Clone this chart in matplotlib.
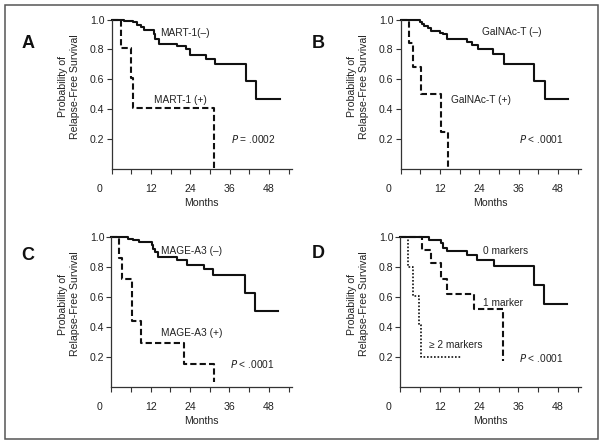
import matplotlib
matplotlib.use("Agg")
import matplotlib.pyplot as plt
import matplotlib.transforms as mtransforms
from matplotlib.patches import Rectangle

plt.rcParams['font.family'] = ['Liberation Sans', 'DejaVu Sans']

# Panel A: MART-1
a_neg_t = [0, 3.7, 6.7, 7.9, 9.0, 9.8, 12.8, 13.3, 14.6, 20.1, 22.8, 23.8, 28.9, 31.6, 41.0, 44.0, 51.3]
a_neg_s = [1.0, 0.99, 0.98, 0.965, 0.95, 0.93, 0.90, 0.87, 0.835, 0.82, 0.80, 0.765, 0.735, 0.70, 0.59, 0.47, 0.47]
a_pos_t = [0, 2.85, 5.9, 6.4, 31.3]
a_pos_s = [1.0, 0.81, 0.61, 0.41, 0.0]

# Panel B: GalNAc-T
b_neg_t = [0, 6.0, 6.7, 7.3, 8.3, 9.4, 12.1, 12.9, 14.3, 20.2, 21.7, 23.5, 28.3, 31.4, 40.8, 43.9, 51.0]
b_neg_s = [1.0, 0.98, 0.97, 0.955, 0.94, 0.925, 0.91, 0.90, 0.87, 0.85, 0.83, 0.80, 0.77, 0.70, 0.59, 0.47, 0.47]
b_pos_t = [0, 2.6, 3.7, 6.3, 12.3, 14.4]
b_pos_s = [1.0, 0.84, 0.68, 0.50, 0.25, 0.0]

# Panel C: MAGE-A3
c_neg_t = [0, 5.2, 6.7, 8.4, 12.3, 12.8, 13.3, 14.3, 19.9, 23.1, 28.2, 31.1, 40.7, 43.8, 50.9]
c_neg_s = [1.0, 0.99, 0.98, 0.965, 0.945, 0.92, 0.90, 0.87, 0.847, 0.813, 0.786, 0.746, 0.625, 0.506, 0.506]
c_pos_t = [0, 2.3, 3.4, 6.2, 9.2, 22.2, 31.3]
c_pos_s = [1.0, 0.86, 0.72, 0.44, 0.29, 0.15, 0.03]

# Panel D: number of markers
d_0_t = [0, 8.7, 12.4, 13.1, 14.3, 20.2, 23.5, 28.5, 40.8, 43.9, 50.9]
d_0_s = [1.0, 0.98, 0.96, 0.93, 0.91, 0.88, 0.845, 0.81, 0.68, 0.55, 0.55]
d_1_t = [0, 6.7, 9.5, 12.3, 14.3, 22.5, 31.4]
d_1_s = [1.0, 0.913, 0.83, 0.718, 0.617, 0.517, 0.175]
d_2_t = [0, 2.4, 3.8, 5.8, 6.3, 18.4]
d_2_s = [1.0, 0.80, 0.61, 0.41, 0.20, 0.20]

panels = [
    ('A', [(a_neg_t, a_neg_s, '-'), (a_pos_t, a_pos_s, '--')],
     [('MART-1(–)', 14.9, 0.91), ('MART-1 (+)', 13.1, 0.46), ('$P$ = .0002', 36.5, 0.20)]),
    ('B', [(b_neg_t, b_neg_s, '-'), (b_pos_t, b_pos_s, '--')],
     [('GalNAc-T (–)', 24.8, 0.915), ('GalNAc-T (+)', 15.3, 0.46), ('$P$ < .0001', 36.2, 0.20)]),
    ('C', [(c_neg_t, c_neg_s, '-'), (c_pos_t, c_pos_s, '--')],
     [('MAGE-A3 (–)', 15.0, 0.905), ('MAGE-A3 (+)', 15.1, 0.36), ('$P$ < .0001', 36.1, 0.152)]),
    ('D', [(d_0_t, d_0_s, '-'), (d_1_t, d_1_s, '--'), (d_2_t, d_2_s, ':')],
     [('0 markers', 25.1, 0.91), ('1 marker', 25.3, 0.56), ('≥ 2 markers', 8.7, 0.28), ('$P$ < .0001', 36.2, 0.19)]),
]

W, H = 604, 447
fig = plt.figure(figsize=(W / 100, H / 100), dpi=100)

# axes origin (px from left, px from top of value 0), letters
ax_px = {'A': (111.5, 169), 'B': (400.5, 169), 'C': (111.3, 386.7), 'D': (400.3, 386.7)}
letter_px = {'A': (28.5, 44), 'B': (318, 44), 'C': (28, 255), 'D': (318, 253)}
ax_w, ax_h = 180.5, 149.5

styles = {'-': dict(linestyle='-', linewidth=1.5),
          '--': dict(linestyle=(0, (3.0, 1.5)), linewidth=1.5),
          ':': dict(linestyle=(0, (1, 1.1)), linewidth=1.2)}

txt = '#222222'
for letter, curves, labels in panels:
    x0, y0 = ax_px[letter]
    ax = fig.add_axes([x0 / W, (H - y0) / H, ax_w / W, ax_h / H])
    for t, s, ls in curves:
        ax.step(t, s, where='post', color='#111111', clip_on=False, **styles[ls])
    for text, x, y in labels:
        ax.text(x, y, text, fontsize=7.3, color=txt, ha='left', va='center')
    ax.set_xlim(0, 55)
    ax.set_ylim(0, 1.0)
    for sp in ['top', 'right']:
        ax.spines[sp].set_visible(False)
    for sp in ['left', 'bottom']:
        ax.spines[sp].set_color('#333333')
        ax.spines[sp].set_linewidth(0.9)
    ax.set_xticks([0, 12, 24, 36, 48], labels=['0', '12', '24', '36', '48'])
    ax.set_xticks([6, 18, 30, 42, 54], minor=True)
    ax.set_yticks([0.2, 0.4, 0.6, 0.8, 1.0], labels=['0.2', '0.4', '0.6', '0.8', '1.0'])
    ax.tick_params(axis='both', which='both', direction='out', length=3.5, width=0.8,
                   colors='#333333', labelsize=7.6, labelcolor=txt)
    ax.tick_params(axis='x', which='major', pad=7.5)
    ax.tick_params(axis='y', pad=1.5)
    off = mtransforms.ScaledTranslation(-0.12, 0, fig.dpi_scale_trans)
    lab0 = ax.get_xticklabels()[0]
    lab0.set_transform(lab0.get_transform() + off)
    ax.set_xlabel('Months', fontsize=7.6, color=txt, labelpad=3)
    ax.text(-0.235, 0.553, 'Probability of\nRelapse-Free Survival', rotation=90,
            ha='center', va='center', multialignment='center', fontsize=7.6,
            color=txt, transform=ax.transAxes)
    lx, ly = letter_px[letter]
    fig.text(lx / W, 1 - ly / H, letter, fontsize=13, fontweight='bold',
             ha='center', va='center', color='#111111')

fig.patches.append(Rectangle((4.5 / W, 8 / H), 593.5 / W, 434 / H, transform=fig.transFigure,
                             fill=False, edgecolor='#555555', linewidth=1.1))

fig.savefig('out.png', dpi=100)
